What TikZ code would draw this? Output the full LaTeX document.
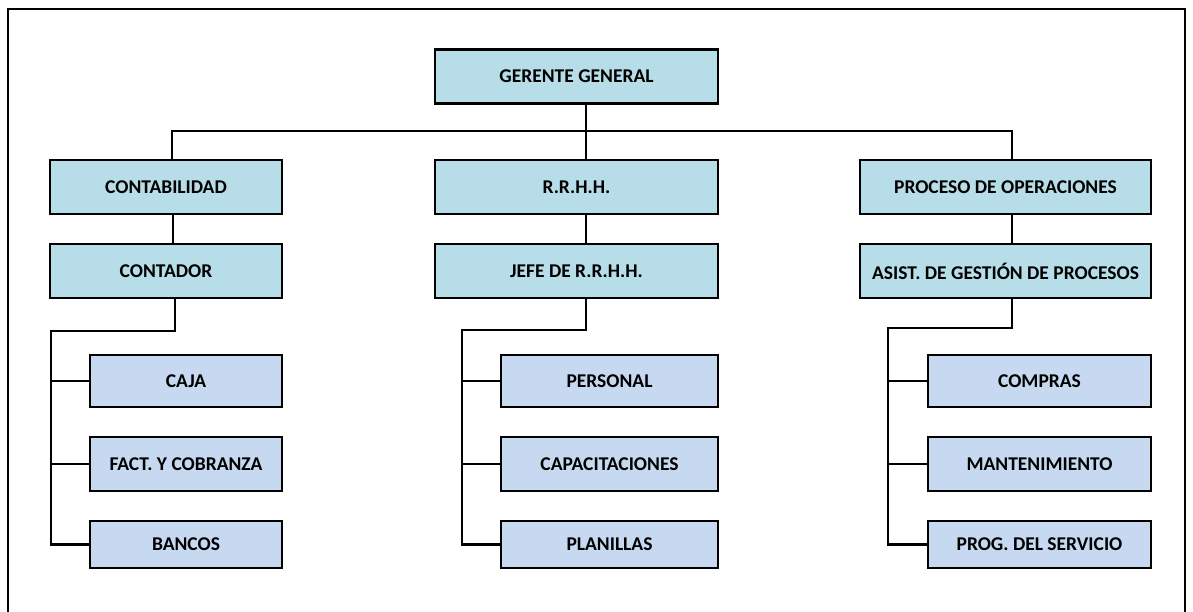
\documentclass[tikz,border=0pt]{standalone}
\usepackage{fontspec}
\setmainfont{Carlito}
\usepackage{tikz}
\usetikzlibrary{positioning}

\definecolor{headblue}{HTML}{B7DEE8}
\definecolor{subblue}{HTML}{C6D9F1}

\begin{document}
\begin{tikzpicture}[
    x=1pt, y=-1pt,
    head/.style={rectangle, draw, line width=2.8pt, fill=headblue,
      minimum height=54pt, inner sep=0pt, font=\fontsize{19.5}{22}\selectfont\bfseries},
    sub/.style={rectangle, draw, line width=2.8pt, fill=subblue,
      minimum height=52pt, inner sep=0pt, font=\fontsize{19.5}{22}\selectfont\bfseries},
    conn/.style={line width=2.5pt}
  ]
    \useasboundingbox (0,0) rectangle (1193,611);
    \draw[line width=1.8pt] (8,615) -- (8,9) -- (1185,9) -- (1185,615);

    % top level
    \node[head, minimum width=283pt] (gg) at (576.5,76.5) {GERENTE GENERAL};

    \node[head, minimum width=232pt] (cont) at (166,187) {CONTABILIDAD};
    \node[head, minimum width=283pt] (rrhh) at (576.5,187) {R.R.H.H.};
    \node[head, minimum width=291pt] (proc) at (1005.5,187) {PROCESO DE OPERACIONES};

    \node[head, minimum width=232pt] (contador) at (166,271) {CONTADOR};
    \node[head, minimum width=283pt] (jefe) at (576.5,271) {JEFE DE R.R.H.H.};
    \node[head, minimum width=291pt] (asist) at (1005.5,271) {ASIST. DE GESTIÓN DE PROCESOS};

    % areas
    \node[sub, minimum width=192pt] (caja) at (186,381) {CAJA};
    \node[sub, minimum width=192pt, minimum height=54pt] (fact) at (186,464) {FACT. Y COBRANZA};
    \node[sub, minimum width=192pt, minimum height=47pt] (banc) at (186,544.5) {BANCOS};

    \node[sub, minimum width=217pt] (pers) at (609.5,381) {PERSONAL};
    \node[sub, minimum width=217pt, minimum height=54pt] (capa) at (609.5,464) {CAPACITACIONES};
    \node[sub, minimum width=217pt, minimum height=47pt] (plan) at (609.5,544.5) {PLANILLAS};

    \node[sub, minimum width=223pt] (comp) at (1039.5,381) {COMPRAS};
    \node[sub, minimum width=223pt, minimum height=54pt] (mant) at (1039.5,464) {MANTENIMIENTO};
    \node[sub, minimum width=223pt, minimum height=47pt] (prog) at (1039.5,544.5) {PROG. DEL SERVICIO};

    \coordinate (top) at (586,131);
    \coordinate (lbus) at (51,331);
    \coordinate (mbus) at (462,330);
    \coordinate (rbus) at (888,328);

    \draw[conn] ([xshift=9.5pt]gg.south) -- ([xshift=9.5pt]rrhh.north);
    \draw[conn] ([xshift=6pt]cont.north) |- (top) -| ([xshift=6.5pt]proc.north);
    \draw[conn] ([xshift=7pt]cont.south) -- ([xshift=7pt]contador.north);
    \draw[conn] ([xshift=9.5pt]rrhh.south) -- ([xshift=9.5pt]jefe.north);
    \draw[conn] ([xshift=6.5pt]proc.south) -- ([xshift=6.5pt]asist.north);

    \draw[conn] ([xshift=9pt]contador.south) |- (lbus) |- (banc.west);
    \draw[conn] (lbus |- caja.west) -- (caja.west);
    \draw[conn] (lbus |- fact.west) -- (fact.west);

    \draw[conn] ([xshift=9.5pt]jefe.south) |- (mbus) |- (plan.west);
    \draw[conn] (mbus |- pers.west) -- (pers.west);
    \draw[conn] (mbus |- capa.west) -- (capa.west);

    \draw[conn] ([xshift=6.5pt]asist.south) |- (rbus) |- (prog.west);
    \draw[conn] (rbus |- comp.west) -- (comp.west);
    \draw[conn] (rbus |- mant.west) -- (mant.west);
  \end{tikzpicture}
\end{document}
